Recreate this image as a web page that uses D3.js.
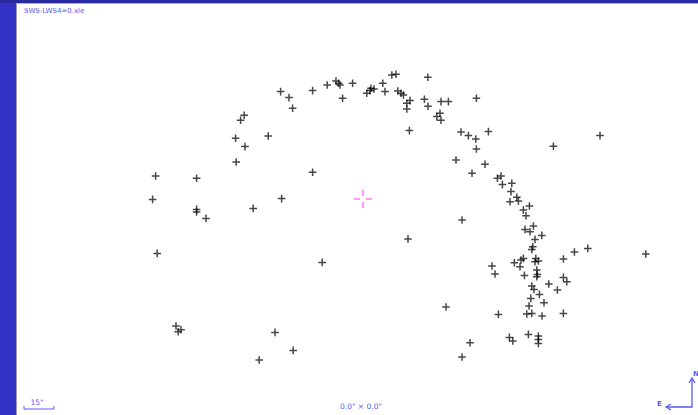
<!DOCTYPE html>
<html>
<head>
<meta charset="utf-8">
<script src="https://cdn.jsdelivr.net/npm/d3@7"></script>
<style>
  html, body { margin: 0; padding: 0; background: #fff; }
  svg { display: block; }
</style>
</head>
<body>
<script>
// offsets from field centre, arcsec (RA positive = East = left, Dec positive = North = up)
var raOff = [41.2, 37.0, 25.2, 17.9, 13.5, 12.2, 35.2, 59.4, 61.2, 47.4, 63.7, 59.0, 63.4, 103.7, 83.2, 25.2,
  11.5, 5.2, 10.2, -1.9, -4.0, -5.5, -3.5, -9.9, -11.0, -14.4, -16.5, -32.4, -17.4, -19.0, -20.2, -21.9,
  -23.5, -21.9, -30.7, -32.5, -39.0, -42.7, -38.5, -36.9, -39.0, -56.7, -23.2, -49.0, -52.7, -56.4, -62.7,
  -56.7, -46.5, -61.0, -54.5, -95.2, -118.5, -67.2, -69.0, -69.7, -74.4, -74.0, -73.5, -76.9, -77.7, -80.2,
  -83.2, -81.5, -81.0, -83.5, -85.2, -86.0, -89.4, -84.9, -49.5, -84.4, -80.2, -79.0, -75.7, -78.5, -86.4,
  -86.0, -87.7, -100.2, -105.7, -112.4, -141.4, -64.5, -66.0, -80.7, -86.9, -87.2, -86.9, -100.2, -101.9,
  -92.9, -97.2, -84.4, -85.5, -88.2, -83.9, -90.5, -83.0, -81.9, -84.4, -89.5, -100.2, -67.7, -73.2, -74.9,
  -82.7, -87.7, -87.7, -87.7, -53.5, 105.2, 83.2, 83.2, 78.5, 54.9, 40.7, 102.9, 20.4, 93.5, 92.4, 91.0,
  44.0, 34.9, 51.9, -22.5, -41.5, -49.5];
var decOff = [53.7, 50.7, 54.2, 57.0, 59.0, 57.9, 45.4, 41.9, 39.4, 31.5, 30.4, 26.2, 18.5, 11.5, 10.4, 13.4,
  57.0, 57.9, 50.4, 52.9, 55.4, 55.0, 54.2, 57.9, 53.7, 62.0, 62.4, 60.9, 54.0, 52.9, 52.0, 47.9,
  49.2, 45.0, 49.9, 46.4, 48.7, 48.7, 42.9, 41.2, 39.4, 50.4, 34.2, 33.5, 31.7, 30.0, 33.7,
  25.0, 19.5, 17.4, 12.9, 26.4, 31.7, 10.4, 11.5, 7.2, 7.9, 3.7, -1.4, 0.9, -1.0, -5.5,
  -3.5, -8.4, -15.2, -16.4, -13.5, -20.2, -18.2, -23.9, -10.5, -25.2, -29.7, -30.5, -31.9, -33.9, -29.7,
  -31.4, -31.0, -30.0, -26.5, -24.7, -27.5, -33.5, -37.5, -38.2, -35.5, -37.7, -38.9, -39.2, -41.4,
  -42.5, -45.5, -43.5, -45.2, -47.7, -49.7, -51.9, -53.5, -57.5, -57.2, -58.5, -57.2, -57.7, -69.2, -71.0,
  -67.7, -68.5, -70.2, -72.2, -71.9, -0.2, -5.2, -6.5, -9.7, -4.7, 0.2, -27.2, -31.7, -63.5, -66.4, -65.4,
  -66.7, -75.7, -80.5, -20.0, -54.0, -79.0];
var fileName = "SWS-LWS4=0.xle";
var centreLabel = "0.0\" \u00d7 0.0\"";
var scaleLabel = "15\"";
var scaleLen = 15;

var W = 698, H = 415;
var svg = d3.select("body").append("svg")
    .attr("width", W)
    .attr("height", H);

// frame
svg.append("rect").attr("x", 0).attr("y", 0).attr("width", W).attr("height", H).attr("fill", "#fff");
svg.append("rect").attr("x", 0).attr("y", 0).attr("width", 16).attr("height", H).attr("fill", "#3232c6");
svg.append("rect").attr("x", 0).attr("y", 0).attr("width", W).attr("height", 3).attr("fill", "#2a2aa0");
svg.append("line").attr("x1", 16.5).attr("x2", 16.5).attr("y1", 3).attr("y2", H)
    .attr("stroke", "#9a9ab0").attr("stroke-width", 1);
svg.append("line").attr("x1", 16).attr("x2", W).attr("y1", 3.5).attr("y2", 3.5)
    .attr("stroke", "#b0b0c0").attr("stroke-width", 1);

// scales: 2 px per arcsec, East to the left
var xScale = d3.scaleLinear().domain([-150, 110]).range([663, 143]);
var yScale = d3.scaleLinear().domain([-90, 70]).range([379, 59]);

var pts = raOff.map(function (d, i) { return { ra: d, dec: decOff[i] }; });

// crosses
var g = svg.append("g").attr("stroke", "#000").attr("stroke-width", 1.5).attr("stroke-opacity", 0.72);
g.selectAll("path.pt")
    .data(pts)
    .enter()
    .append("path")
    .attr("class", "pt")
    .attr("d", function (d) {
        var x = xScale(d.ra), y = yScale(d.dec), a = 3.8;
        return "M" + (x - a) + "," + y + "H" + (x + a) + "M" + x + "," + (y - a) + "V" + (y + a);
    });

// centre marker
var cx = xScale(0), cy = yScale(0);
svg.append("path")
    .attr("d", "M" + (cx - 9) + "," + cy + "H" + (cx - 3) + "M" + (cx + 3) + "," + cy + "H" + (cx + 9) +
        "M" + cx + "," + (cy - 9) + "V" + (cy - 3) + "M" + cx + "," + (cy + 3) + "V" + (cy + 9))
    .attr("stroke", "#ff5cf0").attr("stroke-width", 1.6).attr("fill", "none").attr("stroke-opacity", 0.8);

// labels
var blue = "#5a5af0";
svg.append("text").text(fileName)
    .attr("x", 24).attr("y", 13)
    .attr("font-family", "DejaVu Sans, sans-serif").attr("font-size", "7px").attr("fill", blue);

svg.append("text").text(centreLabel)
    .attr("x", 361).attr("y", 409).attr("text-anchor", "middle")
    .attr("font-family", "DejaVu Sans, sans-serif").attr("font-size", "7.5px").attr("fill", blue);

// scale bar
var sbLen = xScale(0) - xScale(scaleLen);
var sbx = 24, sby = 409;
svg.append("path")
    .attr("d", "M" + sbx + "," + (sby - 3) + "V" + sby + "H" + (sbx + sbLen) + "V" + (sby - 3))
    .attr("stroke", blue).attr("stroke-width", 1).attr("fill", "none");
svg.append("text").text(scaleLabel)
    .attr("x", sbx + sbLen / 2 - 2).attr("y", sby - 4).attr("text-anchor", "middle")
    .attr("font-family", "DejaVu Sans, sans-serif").attr("font-size", "7.5px").attr("fill", blue);

// compass
var ox = 692, oy = 407;
svg.append("path")
    .attr("d", "M" + (ox - 25) + "," + oy + "H" + ox + "V" + (oy - 28))
    .attr("stroke", blue).attr("stroke-width", 1.3).attr("fill", "none");
svg.append("path")
    .attr("d", "M" + (ox - 3) + "," + (oy - 24) + "L" + ox + "," + (oy - 29) + "L" + (ox + 3) + "," + (oy - 24))
    .attr("stroke", blue).attr("stroke-width", 1.3).attr("fill", "none");
svg.append("path")
    .attr("d", "M" + (ox - 21) + "," + (oy - 3) + "L" + (ox - 26) + "," + oy + "L" + (ox - 21) + "," + (oy + 3))
    .attr("stroke", blue).attr("stroke-width", 1.3).attr("fill", "none");
svg.append("text").text("N")
    .attr("x", ox + 1).attr("y", oy - 31)
    .attr("font-family", "DejaVu Sans, sans-serif").attr("font-size", "7px").attr("font-weight", "bold").attr("fill", blue);
svg.append("text").text("E")
    .attr("x", ox - 35).attr("y", oy - 1)
    .attr("font-family", "DejaVu Sans, sans-serif").attr("font-size", "7px").attr("font-weight", "bold").attr("fill", blue);
</script>
</body>
</html>
